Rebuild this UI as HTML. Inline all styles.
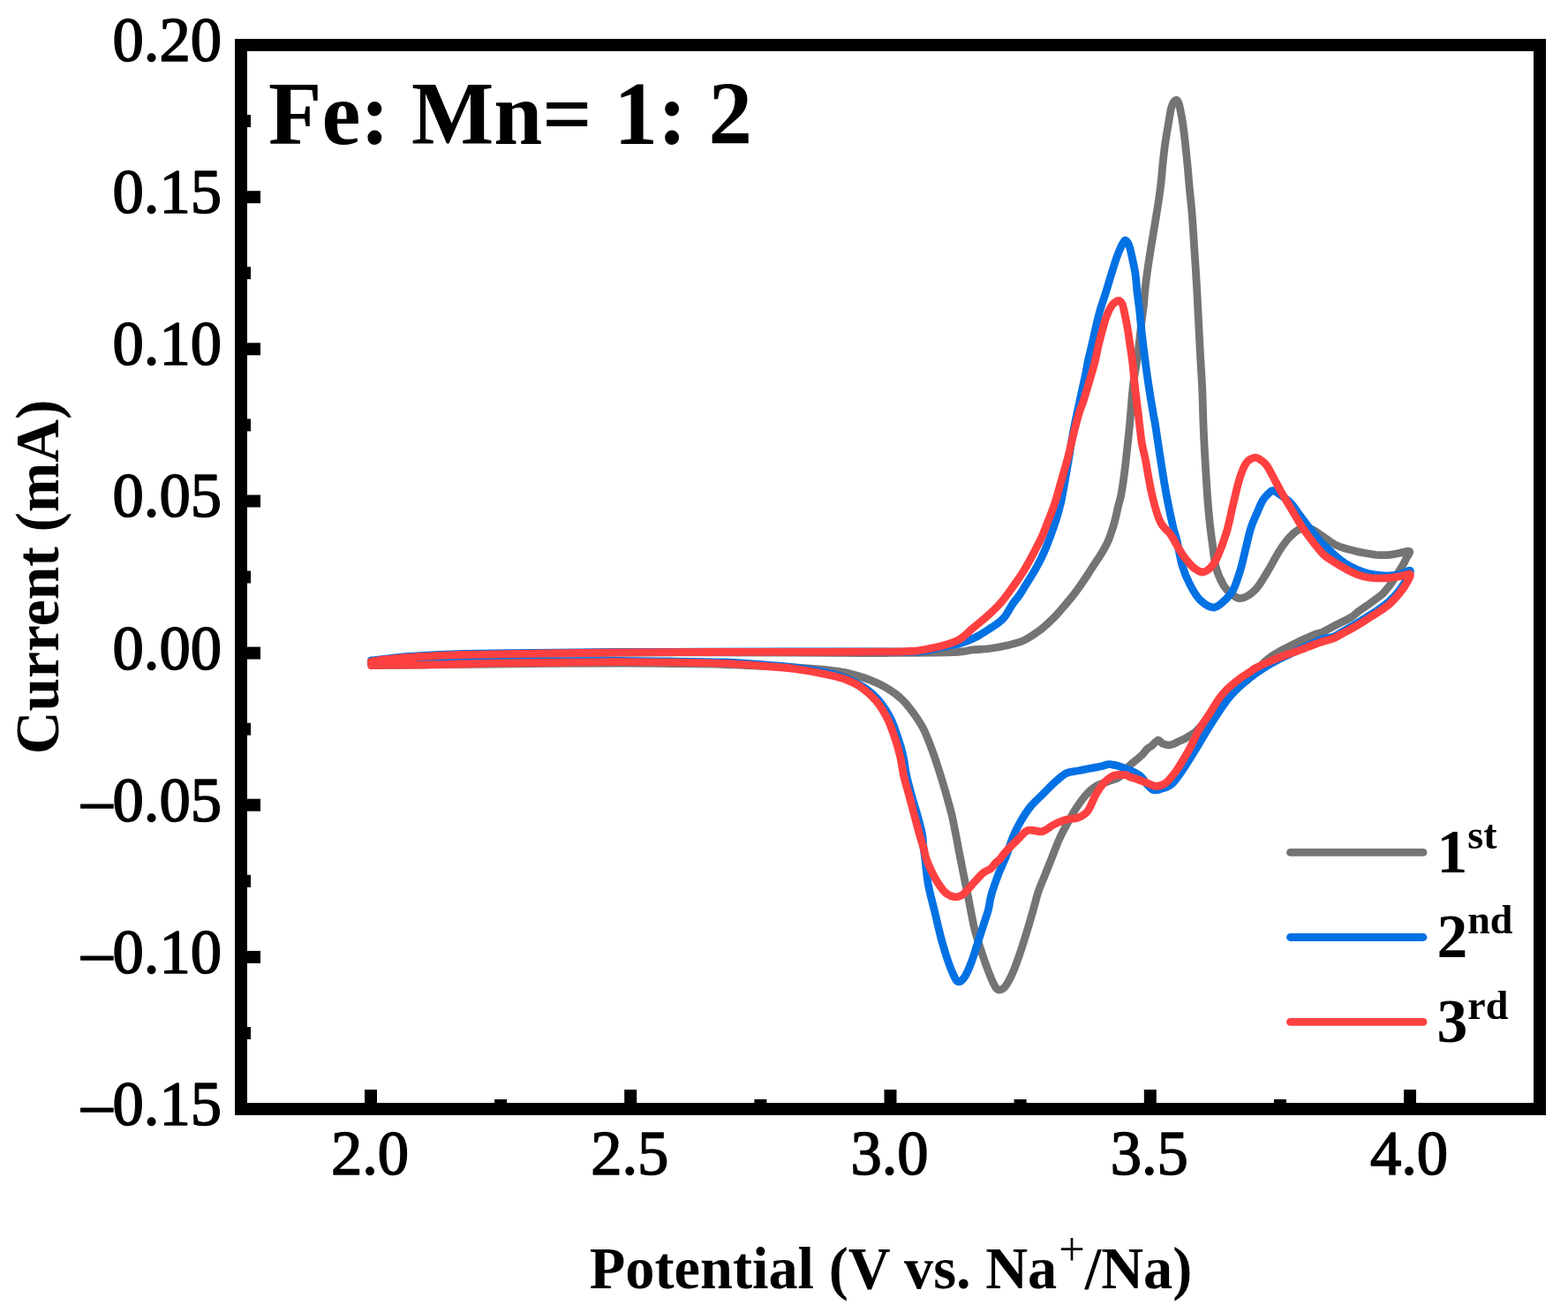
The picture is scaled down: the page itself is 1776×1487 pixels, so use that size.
<!DOCTYPE html>
<html><head><meta charset="utf-8"><title>CV curves Fe:Mn = 1:2</title>
<style>html,body{margin:0;padding:0;background:#fff;}body{width:1776px;height:1487px;overflow:hidden;}svg{display:block;}</style>
</head><body>
<svg width="1776" height="1487" viewBox="0 0 1776 1487">
<rect x="0" y="0" width="1776" height="1487" fill="#fff"/>
<path d="M420.5,749.0 C433.8,747.8 453.4,743.7 500.0,742.0 C546.6,740.3 633.3,739.5 700.0,739.0 C766.7,738.5 850.0,738.9 900.0,739.0 C950.0,739.1 969.9,739.6 1000.0,739.5 C1030.1,739.4 1064.0,739.1 1080.7,738.6 C1097.4,738.1 1093.3,736.9 1100.0,736.2 C1106.7,735.5 1114.2,735.4 1121.0,734.5 C1127.8,733.6 1134.7,732.3 1140.5,731.0 C1146.3,729.7 1152.0,728.1 1155.7,726.9 C1159.5,725.6 1160.5,724.9 1163.0,723.5 C1165.5,722.1 1167.7,720.7 1170.8,718.6 C1173.9,716.5 1177.9,713.8 1181.5,710.8 C1185.1,707.8 1188.7,704.5 1192.3,700.9 C1195.9,697.3 1199.4,693.2 1203.0,689.1 C1206.6,685.0 1210.6,680.3 1213.8,676.4 C1217.0,672.5 1219.2,669.4 1222.0,665.5 C1224.8,661.6 1227.8,657.1 1230.5,653.0 C1233.2,648.9 1235.7,645.0 1238.5,640.7 C1241.3,636.4 1244.5,631.8 1247.2,627.3 C1249.9,622.8 1252.5,618.3 1254.6,613.8 C1256.7,609.3 1258.1,604.9 1259.6,600.4 C1261.1,595.9 1262.3,591.4 1263.5,586.9 C1264.7,582.4 1265.4,578.0 1266.5,573.5 C1267.6,569.0 1268.8,565.6 1269.9,560.0 C1271.0,554.4 1272.1,546.5 1273.0,540.0 C1273.9,533.5 1274.2,530.9 1275.3,521.0 C1276.4,511.1 1278.2,494.7 1279.6,480.7 C1280.9,466.7 1281.9,449.9 1283.4,437.0 C1284.9,424.1 1287.1,414.4 1288.6,403.0 C1290.1,391.6 1291.4,378.2 1292.5,368.6 C1293.6,359.1 1294.6,353.3 1295.4,345.7 C1296.2,338.1 1296.6,330.6 1297.5,323.0 C1298.4,315.4 1299.6,307.1 1300.6,300.0 C1301.6,292.9 1302.0,290.6 1303.6,280.7 C1305.2,270.8 1308.4,252.1 1310.3,240.3 C1312.2,228.5 1313.6,218.9 1314.7,210.0 C1315.8,201.1 1316.1,194.8 1316.9,186.9 C1317.7,179.0 1318.6,170.7 1319.7,162.6 C1320.8,154.5 1322.6,145.1 1323.7,138.4 C1324.8,131.7 1325.6,126.1 1326.6,122.3 C1327.6,118.5 1328.5,117.0 1329.5,115.5 C1330.5,114.0 1331.6,113.2 1332.5,113.4 C1333.4,113.6 1334.3,115.0 1335.0,116.5 C1335.7,118.0 1335.8,118.6 1336.5,122.3 C1337.2,126.0 1338.5,131.7 1339.5,138.4 C1340.5,145.1 1341.6,154.5 1342.5,162.6 C1343.4,170.7 1344.2,179.0 1345.0,186.9 C1345.8,194.8 1346.2,201.1 1347.0,210.0 C1347.8,218.9 1349.0,228.5 1350.0,240.3 C1351.0,252.1 1351.8,267.2 1352.7,280.7 C1353.6,294.1 1354.5,307.6 1355.3,321.0 C1356.1,334.4 1356.7,348.2 1357.4,361.4 C1358.1,374.6 1358.7,386.9 1359.4,400.0 C1360.1,413.1 1361.1,426.9 1361.7,440.3 C1362.3,453.8 1362.5,467.2 1363.0,480.7 C1363.5,494.1 1364.2,507.6 1365.0,521.0 C1365.8,534.5 1366.7,549.9 1367.5,561.4 C1368.3,572.9 1369.1,581.4 1370.0,590.0 C1370.9,598.6 1371.7,604.4 1372.9,613.2 C1374.1,622.0 1375.2,634.4 1377.4,642.8 C1379.6,651.2 1383.3,658.5 1386.2,663.5 C1389.1,668.5 1391.8,670.1 1395.0,672.5 C1398.2,674.9 1401.0,678.4 1405.5,677.6 C1410.0,676.9 1416.6,673.3 1421.8,668.0 C1427.0,662.7 1432.2,653.0 1436.6,645.8 C1441.0,638.6 1444.5,631.2 1448.4,625.0 C1452.4,618.8 1456.2,613.1 1460.3,608.8 C1464.4,604.5 1468.6,600.5 1472.8,599.0 C1477.0,597.5 1481.3,598.1 1485.6,599.5 C1489.8,600.9 1493.8,604.6 1498.3,607.5 C1502.8,610.4 1508.0,614.5 1512.4,616.8 C1516.8,619.1 1520.7,620.2 1524.8,621.5 C1528.9,622.8 1533.1,623.7 1537.2,624.6 C1541.3,625.5 1545.5,626.3 1549.6,627.0 C1553.7,627.7 1557.8,628.4 1561.9,628.6 C1566.0,628.8 1570.2,628.7 1574.3,628.3 C1578.4,627.9 1583.0,626.7 1586.7,626.1 C1590.4,625.5 1595.5,623.4 1596.5,624.5 C1597.5,625.6 1593.9,630.2 1592.5,633.0 C1591.1,635.8 1591.0,636.6 1588.3,641.0 C1585.6,645.4 1580.1,654.3 1576.5,659.5 C1572.9,664.7 1569.5,668.9 1566.6,672.0 C1563.6,675.1 1561.6,675.9 1558.8,678.1 C1556.0,680.3 1553.2,682.4 1549.5,685.0 C1545.8,687.6 1540.0,691.6 1536.7,694.0 C1533.5,696.4 1534.3,696.9 1530.0,699.4 C1525.7,701.9 1516.3,706.3 1511.0,709.0 C1505.7,711.7 1502.3,714.0 1498.3,715.7 C1494.3,717.5 1491.5,717.6 1486.9,719.5 C1482.3,721.4 1476.1,724.2 1470.7,726.8 C1465.3,729.4 1460.0,731.9 1454.6,734.9 C1449.2,737.9 1442.5,741.6 1438.4,744.5 C1434.3,747.4 1433.1,748.8 1430.0,752.0 C1426.9,755.2 1423.3,760.1 1420.0,763.5 C1416.7,766.9 1413.0,769.9 1410.0,772.5 C1407.0,775.1 1404.6,776.9 1402.0,779.0 C1399.4,781.1 1397.2,782.9 1394.5,785.3 C1391.8,787.7 1388.8,790.7 1386.0,793.5 C1383.2,796.3 1380.7,799.1 1378.0,802.0 C1375.3,804.9 1372.7,807.9 1370.0,811.0 C1367.3,814.1 1364.6,817.6 1362.0,820.5 C1359.4,823.4 1356.7,826.6 1354.5,828.6 C1352.3,830.6 1350.9,831.2 1348.8,832.5 C1346.7,833.8 1344.4,835.3 1342.1,836.5 C1339.8,837.7 1337.0,838.8 1334.8,839.8 C1332.6,840.8 1331.0,842.0 1329.1,842.7 C1327.2,843.4 1325.6,843.9 1323.5,843.8 C1321.4,843.7 1318.7,843.0 1316.7,842.1 C1314.7,841.2 1313.7,837.8 1311.7,838.2 C1309.7,838.6 1307.0,842.6 1304.9,844.3 C1302.8,846.0 1301.2,846.5 1299.3,848.3 C1297.4,850.1 1295.7,852.9 1293.6,855.0 C1291.5,857.1 1289.4,858.5 1286.9,860.7 C1284.4,862.9 1281.5,864.8 1278.4,868.0 C1275.3,871.2 1272.0,876.9 1268.1,879.8 C1264.1,882.6 1259.2,883.3 1254.7,885.1 C1250.2,886.9 1245.5,887.8 1241.2,890.5 C1236.9,893.2 1232.9,897.0 1229.1,901.3 C1225.3,905.6 1222.0,910.5 1218.4,916.1 C1214.8,921.7 1210.8,929.1 1207.6,934.9 C1204.4,940.7 1202.2,945.0 1199.5,951.0 C1196.8,957.0 1194.2,964.5 1191.5,971.2 C1188.8,977.9 1186.0,984.9 1183.4,991.4 C1180.8,997.9 1178.0,1004.1 1176.0,1010.0 C1174.0,1015.9 1173.3,1020.0 1171.3,1027.0 C1169.3,1034.0 1166.6,1043.4 1164.0,1052.0 C1161.4,1060.6 1158.4,1070.3 1155.6,1078.6 C1152.8,1086.9 1149.9,1095.1 1147.1,1101.6 C1144.3,1108.0 1141.2,1114.1 1138.6,1117.3 C1136.0,1120.5 1133.3,1121.2 1131.3,1121.0 C1129.3,1120.8 1128.5,1119.7 1126.5,1116.1 C1124.5,1112.5 1121.8,1106.0 1119.2,1099.2 C1116.6,1092.4 1113.4,1083.1 1110.8,1075.0 C1108.2,1066.9 1105.7,1059.9 1103.5,1050.8 C1101.3,1041.7 1099.5,1030.6 1097.5,1020.5 C1095.5,1010.4 1093.2,999.2 1091.4,990.3 C1089.6,981.4 1088.3,974.8 1086.8,967.2 C1085.3,959.7 1084.1,952.4 1082.6,945.0 C1081.1,937.6 1079.8,930.2 1078.0,922.8 C1076.2,915.4 1074.2,908.5 1072.0,900.6 C1069.8,892.7 1067.2,884.1 1064.5,875.5 C1061.8,866.9 1058.5,856.9 1055.5,848.8 C1052.5,840.6 1049.7,833.0 1046.5,826.6 C1043.3,820.2 1040.5,816.0 1036.5,810.3 C1032.5,804.6 1027.5,797.8 1022.2,792.6 C1016.9,787.4 1011.1,783.2 1004.4,779.2 C997.7,775.2 989.6,771.7 982.2,768.9 C974.8,766.1 966.8,763.8 960.0,762.2 C953.2,760.6 948.1,760.2 941.6,759.4 C935.1,758.6 931.6,758.1 921.3,757.4 C911.0,756.7 896.9,755.8 880.0,755.0 C863.1,754.2 840.0,753.1 820.0,752.5 C800.0,751.9 780.0,751.8 760.0,751.5 C740.0,751.2 733.3,750.9 700.0,751.0 C666.7,751.1 596.7,751.7 560.0,752.0 C523.3,752.3 503.2,752.8 480.0,753.0 C456.8,753.2 430.4,753.4 420.5,753.5 Z" fill="none" stroke="#747474" stroke-width="8.80" stroke-linejoin="round" stroke-linecap="round"/>
<path d="M420.5,748.0 C427.1,747.3 446.8,744.8 460.0,743.7 C473.2,742.6 483.3,741.9 500.0,741.3 C516.7,740.7 526.7,740.5 560.0,740.0 C593.3,739.5 643.3,738.8 700.0,738.5 C756.7,738.2 850.0,738.1 900.0,738.0 C950.0,737.9 976.7,738.0 1000.0,738.0 C1023.3,738.0 1030.0,738.4 1040.0,737.8 C1050.0,737.2 1054.4,735.6 1060.0,734.5 C1065.6,733.4 1069.6,732.2 1073.8,731.4 C1078.0,730.5 1081.2,730.3 1085.0,729.4 C1088.8,728.5 1092.5,727.2 1096.3,725.7 C1100.1,724.2 1103.8,722.5 1107.6,720.4 C1111.3,718.3 1115.1,715.8 1118.8,713.4 C1122.5,711.0 1126.8,708.5 1130.0,706.0 C1133.2,703.5 1135.2,702.2 1138.0,698.5 C1140.8,694.8 1144.2,688.2 1147.0,684.0 C1149.8,679.8 1152.7,676.9 1155.0,673.5 C1157.3,670.1 1158.1,668.4 1161.1,663.6 C1164.1,658.8 1169.3,651.0 1172.8,644.7 C1176.3,638.4 1179.5,632.2 1182.3,625.9 C1185.1,619.6 1187.4,613.4 1189.8,607.1 C1192.2,600.8 1194.4,594.5 1196.4,588.2 C1198.4,581.9 1199.9,577.0 1201.6,569.4 C1203.3,561.8 1205.1,551.1 1206.6,542.6 C1208.1,534.1 1209.3,526.5 1210.7,518.4 C1212.1,510.3 1213.2,502.3 1214.7,494.2 C1216.2,486.1 1217.1,481.2 1219.5,470.0 C1221.9,458.8 1226.8,436.9 1228.9,426.9 C1231.0,416.9 1230.8,416.0 1232.1,410.0 C1233.4,404.0 1235.1,397.6 1236.6,391.1 C1238.1,384.6 1239.5,377.7 1241.1,371.0 C1242.7,364.3 1244.3,357.5 1246.2,350.8 C1248.1,344.1 1250.6,337.3 1252.7,330.6 C1254.8,323.9 1256.7,317.1 1258.8,310.4 C1260.9,303.7 1263.4,295.5 1265.3,290.3 C1267.2,285.1 1268.5,282.0 1270.0,279.0 C1271.5,276.0 1273.0,272.4 1274.4,272.1 C1275.8,271.8 1277.2,274.0 1278.5,277.0 C1279.8,280.0 1280.8,284.7 1282.0,290.3 C1283.2,295.9 1285.0,303.7 1286.0,310.4 C1287.0,317.1 1287.2,323.9 1288.0,330.6 C1288.8,337.3 1289.8,344.1 1290.6,350.8 C1291.4,357.5 1291.7,362.8 1292.6,371.0 C1293.5,379.2 1294.6,389.0 1296.0,400.0 C1297.4,411.0 1299.3,425.3 1301.1,437.0 C1302.8,448.7 1305.3,462.7 1306.5,470.0 C1307.7,477.3 1307.2,472.2 1308.5,480.7 C1309.8,489.2 1312.5,507.6 1314.6,521.0 C1316.7,534.5 1318.9,548.6 1321.3,561.4 C1323.7,574.2 1327.0,589.6 1329.0,598.0 C1331.0,606.4 1331.3,605.0 1333.0,612.0 C1334.7,619.0 1336.4,631.6 1338.9,639.9 C1341.4,648.2 1344.3,655.4 1347.8,662.0 C1351.2,668.6 1355.0,675.5 1359.6,679.8 C1364.1,684.1 1370.2,688.3 1375.1,688.0 C1380.0,687.7 1385.5,681.5 1389.2,678.0 C1392.9,674.5 1394.5,672.8 1397.2,667.2 C1399.9,661.6 1402.9,652.0 1405.2,644.4 C1407.5,636.8 1409.0,629.1 1410.9,621.5 C1412.8,613.9 1414.5,605.3 1416.6,598.6 C1418.7,591.9 1421.2,586.8 1423.5,581.5 C1425.8,576.2 1428.0,570.4 1430.3,566.6 C1432.6,562.8 1435.3,560.4 1437.2,558.6 C1439.1,556.8 1439.5,555.3 1441.8,555.7 C1444.1,556.1 1447.5,558.5 1450.9,560.9 C1454.3,563.3 1459.2,566.8 1462.3,570.0 C1465.4,573.2 1466.3,575.4 1469.7,580.0 C1473.1,584.6 1478.3,591.6 1482.8,597.4 C1487.3,603.2 1493.9,611.5 1496.8,614.9 C1499.7,618.3 1497.5,615.2 1500.0,617.6 C1502.5,620.0 1507.9,625.5 1512.0,629.0 C1516.1,632.5 1520.6,636.1 1524.8,638.8 C1529.0,641.5 1532.9,643.2 1537.0,645.0 C1541.1,646.8 1545.4,648.4 1549.6,649.5 C1553.8,650.6 1557.9,651.1 1562.0,651.5 C1566.1,651.9 1570.1,652.2 1574.3,652.0 C1578.5,651.8 1583.2,650.9 1587.0,650.0 C1590.8,649.1 1596.7,645.0 1597.4,646.5 C1598.2,648.0 1593.8,655.0 1591.5,659.0 C1589.2,663.0 1586.6,666.8 1583.5,670.5 C1580.4,674.2 1576.5,678.3 1573.0,681.5 C1569.5,684.7 1566.0,687.0 1562.5,689.5 C1559.0,692.0 1555.6,694.2 1552.0,696.5 C1548.4,698.8 1544.6,701.3 1541.0,703.5 C1537.4,705.7 1534.0,707.8 1530.5,709.8 C1527.0,711.8 1523.4,713.9 1520.0,715.8 C1516.6,717.7 1513.6,720.0 1510.0,721.3 C1506.4,722.6 1502.1,722.3 1498.3,723.5 C1494.5,724.7 1491.6,726.4 1487.0,728.5 C1482.4,730.6 1476.0,733.5 1470.7,736.0 C1465.4,738.5 1460.5,740.8 1455.0,743.5 C1449.5,746.2 1443.5,749.2 1438.0,752.5 C1432.5,755.8 1426.9,759.5 1422.0,763.0 C1417.1,766.5 1412.5,770.1 1408.8,773.2 C1405.1,776.3 1403.0,778.5 1400.0,781.5 C1397.0,784.5 1394.6,786.6 1391.0,791.3 C1387.4,796.0 1382.3,803.5 1378.3,809.5 C1374.3,815.5 1370.8,821.0 1366.8,827.6 C1362.8,834.2 1358.4,841.9 1354.0,849.1 C1349.6,856.3 1345.0,864.1 1340.5,870.6 C1336.0,877.1 1331.3,884.3 1327.1,888.1 C1322.8,891.9 1318.4,892.4 1315.0,893.5 C1311.6,894.6 1309.4,895.5 1306.9,894.8 C1304.4,894.1 1302.7,891.9 1300.0,889.2 C1297.3,886.5 1295.2,881.5 1291.0,878.4 C1286.8,875.2 1280.4,872.4 1274.8,870.3 C1269.2,868.2 1261.9,866.0 1257.4,865.6 C1252.9,865.2 1251.8,866.9 1248.0,867.7 C1244.2,868.5 1239.0,869.4 1234.5,870.3 C1230.0,871.2 1225.5,872.1 1221.0,873.0 C1216.5,873.9 1212.1,873.5 1207.6,875.7 C1203.1,878.0 1198.6,882.5 1194.1,886.5 C1189.6,890.5 1185.2,895.4 1180.7,899.9 C1176.2,904.4 1171.3,908.5 1167.3,913.4 C1163.3,918.3 1159.9,923.7 1156.5,929.5 C1153.1,935.3 1149.9,941.6 1147.1,948.4 C1144.3,955.1 1142.3,962.9 1139.5,970.0 C1136.7,977.1 1133.2,983.8 1130.5,991.0 C1127.8,998.2 1124.8,1006.5 1123.0,1013.0 C1121.2,1019.5 1120.7,1025.1 1119.5,1030.0 C1118.3,1034.9 1117.7,1035.8 1115.6,1042.3 C1113.5,1048.8 1109.7,1060.8 1107.1,1068.9 C1104.5,1077.0 1102.3,1084.5 1099.9,1090.7 C1097.5,1097.0 1095.0,1102.9 1092.6,1106.4 C1090.2,1109.9 1087.4,1112.1 1085.4,1111.9 C1083.4,1111.7 1082.5,1109.3 1080.5,1105.2 C1078.5,1101.1 1075.7,1094.1 1073.3,1087.1 C1070.9,1080.0 1068.4,1072.0 1066.0,1062.9 C1063.6,1053.8 1061.1,1042.7 1058.7,1032.6 C1056.3,1022.5 1053.4,1012.8 1051.5,1002.4 C1049.6,992.0 1048.5,977.8 1047.5,970.4 C1046.5,963.0 1046.3,962.2 1045.8,958.0 C1045.3,953.8 1045.7,950.9 1044.6,945.0 C1043.5,939.1 1041.0,930.2 1039.0,922.8 C1037.0,915.4 1034.5,908.0 1032.5,900.6 C1030.5,893.2 1028.4,885.8 1026.8,878.4 C1025.2,871.0 1024.7,863.6 1023.0,856.2 C1021.3,848.8 1018.9,841.1 1016.5,834.0 C1014.1,826.9 1011.9,820.0 1008.5,813.3 C1005.1,806.6 1000.8,799.7 996.0,794.0 C991.2,788.3 985.5,783.4 979.5,779.2 C973.5,775.0 966.3,771.7 960.0,769.0 C953.7,766.3 951.4,765.2 941.6,763.0 C931.8,760.8 914.6,757.8 901.0,756.0 C887.4,754.2 873.5,753.5 860.0,752.5 C846.5,751.5 836.7,750.6 820.0,750.0 C803.3,749.4 780.0,749.2 760.0,749.0 C740.0,748.8 733.3,748.5 700.0,748.5 C666.7,748.5 596.7,748.7 560.0,749.0 C523.3,749.3 500.0,750.1 480.0,750.5 C460.0,750.9 449.9,751.2 440.0,751.5 C430.1,751.8 423.8,752.3 420.5,752.5 Z" fill="none" stroke="#0271e4" stroke-width="8.80" stroke-linejoin="round" stroke-linecap="round"/>
<path d="M420.5,749.0 C423.6,748.6 432.6,747.4 439.0,746.7 C445.4,746.0 452.3,745.2 459.0,744.7 C465.7,744.2 472.2,743.8 479.0,743.4 C485.8,743.0 492.3,742.6 500.0,742.3 C507.7,742.0 515.0,741.8 525.0,741.5 C535.0,741.2 544.2,741.0 560.0,740.8 C575.8,740.5 596.7,740.3 620.0,740.0 C643.3,739.7 670.0,739.2 700.0,739.0 C730.0,738.8 766.7,738.6 800.0,738.5 C833.3,738.4 866.7,738.4 900.0,738.4 C933.3,738.4 978.8,738.3 1000.0,738.2 C1021.2,738.1 1020.3,737.8 1027.0,737.6 C1033.7,737.4 1034.1,737.6 1040.0,736.8 C1045.9,735.9 1055.0,734.4 1062.5,732.5 C1070.0,730.6 1078.4,728.7 1085.0,725.2 C1091.6,721.7 1096.3,716.0 1101.9,711.4 C1107.5,706.8 1113.5,702.1 1118.8,697.3 C1124.1,692.5 1128.9,688.0 1133.8,682.4 C1138.7,676.8 1143.4,669.9 1147.9,663.6 C1152.4,657.3 1156.8,651.0 1160.6,644.7 C1164.4,638.4 1167.7,632.2 1171.0,625.9 C1174.3,619.6 1177.6,613.4 1180.4,607.1 C1183.2,600.8 1185.4,594.6 1187.9,588.2 C1190.4,581.8 1192.8,576.1 1195.2,568.5 C1197.7,560.9 1200.2,551.0 1202.6,542.6 C1205.0,534.2 1207.4,526.5 1209.5,518.4 C1211.6,510.3 1213.3,502.3 1215.3,494.2 C1217.3,486.1 1219.6,476.7 1221.6,470.0 C1223.6,463.3 1225.2,460.0 1227.2,453.8 C1229.2,447.6 1231.3,440.3 1233.5,433.0 C1235.7,425.7 1238.3,417.0 1240.1,410.0 C1241.9,403.0 1242.7,397.6 1244.2,391.1 C1245.8,384.6 1248.0,376.0 1249.4,371.0 C1250.8,366.0 1251.2,364.3 1252.4,360.9 C1253.6,357.5 1255.1,353.6 1256.5,350.8 C1257.9,348.0 1259.2,345.7 1261.0,344.0 C1262.8,342.3 1265.7,340.5 1267.4,340.5 C1269.1,340.5 1270.1,342.3 1271.0,344.0 C1271.9,345.7 1271.9,346.3 1272.9,350.8 C1273.9,355.3 1275.8,364.3 1277.0,371.0 C1278.2,377.7 1279.0,384.6 1280.0,391.1 C1281.0,397.6 1281.8,402.4 1282.7,410.0 C1283.6,417.6 1284.3,427.0 1285.4,437.0 C1286.5,447.0 1288.1,459.5 1289.4,470.0 C1290.7,480.5 1291.7,491.5 1293.0,500.0 C1294.3,508.5 1296.2,514.3 1297.5,521.0 C1298.8,527.7 1299.5,533.2 1300.8,540.0 C1302.1,546.8 1303.4,554.3 1305.1,561.5 C1306.8,568.7 1309.3,577.8 1311.0,583.0 C1312.7,588.2 1313.5,589.8 1315.0,592.5 C1316.5,595.2 1318.2,596.8 1320.0,599.0 C1321.8,601.2 1323.8,602.4 1326.0,605.5 C1328.2,608.6 1330.8,613.7 1333.0,617.5 C1335.2,621.3 1337.0,624.7 1339.5,628.3 C1342.0,631.9 1345.6,636.3 1348.0,639.0 C1350.4,641.7 1351.7,643.0 1354.0,644.5 C1356.3,646.0 1359.0,648.2 1361.8,648.0 C1364.6,647.8 1368.2,645.8 1371.0,643.0 C1373.8,640.2 1375.8,637.7 1378.8,631.0 C1381.8,624.3 1386.2,612.8 1389.2,602.9 C1392.2,593.0 1394.1,581.9 1396.6,571.8 C1399.1,561.7 1401.5,550.1 1404.0,542.2 C1406.5,534.3 1408.6,528.4 1411.4,524.4 C1414.2,520.4 1418.2,518.8 1421.0,518.2 C1423.8,517.6 1425.7,519.5 1428.0,521.0 C1430.3,522.5 1432.2,523.5 1435.0,527.5 C1437.8,531.5 1441.4,539.2 1444.6,545.0 C1447.8,550.8 1450.8,556.6 1454.2,562.4 C1457.6,568.2 1461.2,574.2 1464.7,580.0 C1468.2,585.8 1471.9,592.4 1475.2,597.4 C1478.5,602.4 1481.5,606.4 1484.4,610.2 C1487.3,614.1 1489.9,617.4 1492.5,620.5 C1495.1,623.6 1496.7,626.1 1500.0,628.9 C1503.3,631.7 1508.3,634.7 1512.4,637.3 C1516.5,639.9 1520.7,642.5 1524.8,644.7 C1528.9,646.9 1533.1,649.1 1537.2,650.6 C1541.3,652.1 1545.5,653.3 1549.6,654.0 C1553.7,654.7 1557.8,654.9 1561.9,654.9 C1566.0,654.9 1570.2,654.7 1574.3,654.3 C1578.4,653.9 1582.9,653.4 1586.7,652.7 C1590.5,652.0 1596.1,649.1 1597.2,650.3 C1598.3,651.5 1595.4,656.4 1593.4,660.0 C1591.4,663.6 1588.4,667.9 1585.3,671.8 C1582.2,675.7 1578.2,680.1 1574.6,683.4 C1571.0,686.7 1567.4,689.0 1563.8,691.5 C1560.2,694.0 1556.6,696.1 1553.0,698.4 C1549.4,700.7 1545.6,703.3 1542.0,705.5 C1538.4,707.7 1535.1,709.6 1531.5,711.6 C1527.9,713.6 1524.1,715.6 1520.5,717.5 C1516.9,719.4 1513.7,721.7 1510.0,723.2 C1506.3,724.7 1502.1,725.3 1498.3,726.5 C1494.5,727.7 1491.5,728.8 1486.9,730.5 C1482.3,732.2 1476.1,734.9 1470.7,736.9 C1465.3,738.9 1460.0,740.5 1454.6,742.5 C1449.2,744.5 1443.8,746.7 1438.4,749.0 C1433.0,751.3 1426.1,754.5 1422.3,756.5 C1418.5,758.5 1418.3,759.3 1415.8,761.0 C1413.2,762.7 1409.9,764.5 1407.0,766.5 C1404.1,768.5 1401.3,770.7 1398.3,773.2 C1395.3,775.7 1391.9,778.5 1389.0,781.5 C1386.1,784.5 1384.0,786.6 1380.7,791.3 C1377.4,796.0 1373.1,803.5 1369.2,809.5 C1365.3,815.5 1360.7,821.9 1357.4,827.6 C1354.1,833.4 1352.3,838.6 1349.5,844.0 C1346.7,849.4 1343.6,854.8 1340.5,859.9 C1337.4,865.0 1334.5,870.2 1331.1,874.7 C1327.7,879.2 1323.9,884.2 1320.3,886.8 C1316.7,889.4 1313.0,890.5 1309.6,890.5 C1306.2,890.5 1303.5,888.3 1300.0,887.0 C1296.5,885.7 1291.6,883.7 1288.3,882.5 C1285.0,881.3 1282.2,880.8 1280.0,880.0 C1277.8,879.2 1277.9,878.0 1274.8,877.7 C1271.7,877.4 1265.4,876.9 1261.4,878.4 C1257.4,879.9 1254.0,882.9 1250.6,886.5 C1247.2,890.1 1244.3,894.5 1241.2,899.9 C1238.1,905.3 1235.2,914.4 1231.8,918.8 C1228.4,923.2 1225.0,924.6 1221.0,926.2 C1217.0,927.8 1212.1,927.0 1207.6,928.2 C1203.1,929.4 1198.6,931.4 1194.1,933.6 C1189.6,935.8 1185.6,940.5 1180.7,941.6 C1175.8,942.7 1169.1,938.9 1164.6,940.3 C1160.1,941.6 1157.8,945.9 1153.8,949.7 C1149.8,953.5 1143.8,959.4 1140.3,963.2 C1136.8,967.0 1135.1,970.1 1133.0,972.5 C1130.9,974.9 1129.2,975.7 1127.5,977.5 C1125.8,979.3 1124.2,982.0 1122.5,983.5 C1120.8,985.0 1118.7,985.5 1117.0,986.5 C1115.3,987.5 1114.7,987.5 1112.5,989.5 C1110.3,991.5 1107.7,994.6 1104.0,998.6 C1100.3,1002.6 1094.1,1010.4 1090.2,1013.3 C1086.3,1016.1 1083.7,1016.1 1080.5,1015.7 C1077.3,1015.3 1073.8,1013.4 1070.8,1010.8 C1067.8,1008.2 1065.0,1004.0 1062.4,1000.0 C1059.8,996.0 1057.3,991.2 1055.1,986.6 C1052.9,982.0 1050.5,976.5 1049.0,972.1 C1047.5,967.7 1047.3,964.5 1046.0,960.0 C1044.7,955.5 1043.2,951.2 1041.4,945.0 C1039.7,938.8 1037.5,930.2 1035.5,922.8 C1033.5,915.4 1031.6,908.0 1029.6,900.6 C1027.6,893.2 1025.3,885.8 1023.6,878.4 C1021.9,871.0 1021.3,863.6 1019.5,856.2 C1017.7,848.8 1015.5,841.1 1013.0,834.0 C1010.5,826.9 1008.2,820.0 1004.8,813.3 C1001.4,806.6 997.2,799.7 992.5,794.0 C987.8,788.3 981.9,783.1 976.5,779.2 C971.1,775.3 965.8,772.8 960.0,770.4 C954.2,768.0 951.4,767.1 941.6,765.0 C931.8,762.9 914.6,759.4 901.1,757.6 C887.6,755.8 874.0,755.0 860.5,754.0 C847.0,753.0 836.8,751.9 820.0,751.3 C803.2,750.7 780.0,750.5 760.0,750.2 C740.0,749.9 723.3,749.6 700.0,749.6 C676.7,749.6 643.3,750.2 620.0,750.5 C596.7,750.8 575.8,751.0 560.0,751.2 C544.2,751.5 538.3,751.7 525.0,752.0 C511.7,752.3 494.2,752.7 480.0,752.9 C465.8,753.1 449.9,753.1 440.0,753.2 C430.1,753.3 423.8,753.5 420.5,753.5 Z" fill="none" stroke="#ff4040" stroke-width="8.80" stroke-linejoin="round" stroke-linecap="round"/>
<rect x="273.0" y="51.0" width="1471.0" height="1205.0" fill="none" stroke="#000" stroke-width="14.0" stroke-linejoin="miter"/>
<g fill="#000"><rect x="280.0" y="1249.0" width="15.0" height="14.0"/><rect x="280.0" y="1076.9" width="15.0" height="14.0"/><rect x="280.0" y="904.7" width="15.0" height="14.0"/><rect x="280.0" y="732.6" width="15.0" height="14.0"/><rect x="280.0" y="560.5" width="15.0" height="14.0"/><rect x="280.0" y="388.3" width="15.0" height="14.0"/><rect x="280.0" y="216.2" width="15.0" height="14.0"/><rect x="280.0" y="1163.0" width="4.0" height="14.0"/><rect x="280.0" y="990.8" width="4.0" height="14.0"/><rect x="280.0" y="818.7" width="4.0" height="14.0"/><rect x="280.0" y="646.5" width="4.0" height="14.0"/><rect x="280.0" y="474.4" width="4.0" height="14.0"/><rect x="280.0" y="302.2" width="4.0" height="14.0"/><rect x="280.0" y="130.1" width="4.0" height="14.0"/><rect x="413.0" y="1234.0" width="14.0" height="15.0"/><rect x="707.2" y="1234.0" width="14.0" height="15.0"/><rect x="1001.5" y="1234.0" width="14.0" height="15.0"/><rect x="1295.8" y="1234.0" width="14.0" height="15.0"/><rect x="1590.0" y="1234.0" width="14.0" height="15.0"/><rect x="560.1" y="1245.0" width="14.0" height="4.0"/><rect x="854.4" y="1245.0" width="14.0" height="4.0"/><rect x="1148.6" y="1245.0" width="14.0" height="4.0"/><rect x="1442.9" y="1245.0" width="14.0" height="4.0"/></g>
<line x1="1461.5" y1="965.4" x2="1612.0" y2="965.4" stroke="#747474" stroke-width="8.80" stroke-linecap="round"/>
<line x1="1461.5" y1="1061.5" x2="1612.0" y2="1061.5" stroke="#0271e4" stroke-width="8.80" stroke-linecap="round"/>
<line x1="1461.5" y1="1157.4" x2="1612.0" y2="1157.4" stroke="#ff4040" stroke-width="8.80" stroke-linecap="round"/>
<text transform="translate(251.00,69.02) scale(0.9800,1)" font-family="'Liberation Serif', serif" font-size="72.00" text-anchor="end" stroke="#000" stroke-width="1.63" stroke-linejoin="round">0.20</text>
<text transform="translate(251.00,241.16) scale(0.9800,1)" font-family="'Liberation Serif', serif" font-size="72.00" text-anchor="end" stroke="#000" stroke-width="1.63" stroke-linejoin="round">0.15</text>
<text transform="translate(251.00,413.31) scale(0.9800,1)" font-family="'Liberation Serif', serif" font-size="72.00" text-anchor="end" stroke="#000" stroke-width="1.63" stroke-linejoin="round">0.10</text>
<text transform="translate(251.00,585.46) scale(0.9800,1)" font-family="'Liberation Serif', serif" font-size="72.00" text-anchor="end" stroke="#000" stroke-width="1.63" stroke-linejoin="round">0.05</text>
<text transform="translate(251.00,757.60) scale(0.9800,1)" font-family="'Liberation Serif', serif" font-size="72.00" text-anchor="end" stroke="#000" stroke-width="1.63" stroke-linejoin="round">0.00</text>
<text transform="translate(251.00,929.75) scale(0.9800,1)" font-family="'Liberation Serif', serif" font-size="72.00" text-anchor="end" stroke="#000" stroke-width="1.63" stroke-linejoin="round">&#8211;0.05</text>
<text transform="translate(251.00,1101.89) scale(0.9800,1)" font-family="'Liberation Serif', serif" font-size="72.00" text-anchor="end" stroke="#000" stroke-width="1.63" stroke-linejoin="round">&#8211;0.10</text>
<text transform="translate(251.00,1274.04) scale(0.9800,1)" font-family="'Liberation Serif', serif" font-size="72.00" text-anchor="end" stroke="#000" stroke-width="1.63" stroke-linejoin="round">&#8211;0.15</text>
<text transform="translate(419.00,1330.00) scale(0.9800,1)" font-family="'Liberation Serif', serif" font-size="72.00" text-anchor="middle" stroke="#000" stroke-width="1.63" stroke-linejoin="round">2.0</text>
<text transform="translate(713.25,1330.00) scale(0.9800,1)" font-family="'Liberation Serif', serif" font-size="72.00" text-anchor="middle" stroke="#000" stroke-width="1.63" stroke-linejoin="round">2.5</text>
<text transform="translate(1007.50,1330.00) scale(0.9800,1)" font-family="'Liberation Serif', serif" font-size="72.00" text-anchor="middle" stroke="#000" stroke-width="1.63" stroke-linejoin="round">3.0</text>
<text transform="translate(1301.75,1330.00) scale(0.9800,1)" font-family="'Liberation Serif', serif" font-size="72.00" text-anchor="middle" stroke="#000" stroke-width="1.63" stroke-linejoin="round">3.5</text>
<text transform="translate(1596.00,1330.00) scale(0.9800,1)" font-family="'Liberation Serif', serif" font-size="72.00" text-anchor="middle" stroke="#000" stroke-width="1.63" stroke-linejoin="round">4.0</text>
<text transform="translate(667.80,1459.00) scale(0.9700,1)" font-family="'Liberation Serif', serif" font-size="68.40" font-weight="bold">Potential (V vs. Na<tspan font-size="54.00" dx="2" dy="-26.00" font-weight="normal">+</tspan><tspan dy="26.00">/Na)</tspan></text>
<text transform="translate(66.40,854.20) rotate(-90) scale(0.9630,1)" font-family="'Liberation Serif', serif" font-size="70.10" font-weight="bold" text-anchor="start">Current (mA)</text>
<text transform="translate(304.00,162.60) scale(0.9680,1)" font-family="'Liberation Serif', serif" font-size="102.20" font-weight="bold" text-anchor="start">Fe: Mn= 1: 2</text>
<text transform="translate(1627.50,987.80) scale(1.0000,1)" font-family="'Liberation Serif', serif" font-size="69.50" font-weight="bold">1<tspan font-size="46.00" dy="-26.50">st</tspan></text>
<text transform="translate(1627.50,1083.80) scale(1.0000,1)" font-family="'Liberation Serif', serif" font-size="69.50" font-weight="bold">2<tspan font-size="46.00" dy="-26.50">nd</tspan></text>
<text transform="translate(1627.50,1180.00) scale(1.0000,1)" font-family="'Liberation Serif', serif" font-size="69.50" font-weight="bold">3<tspan font-size="46.00" dy="-26.50">rd</tspan></text>
</svg>
</body></html>
